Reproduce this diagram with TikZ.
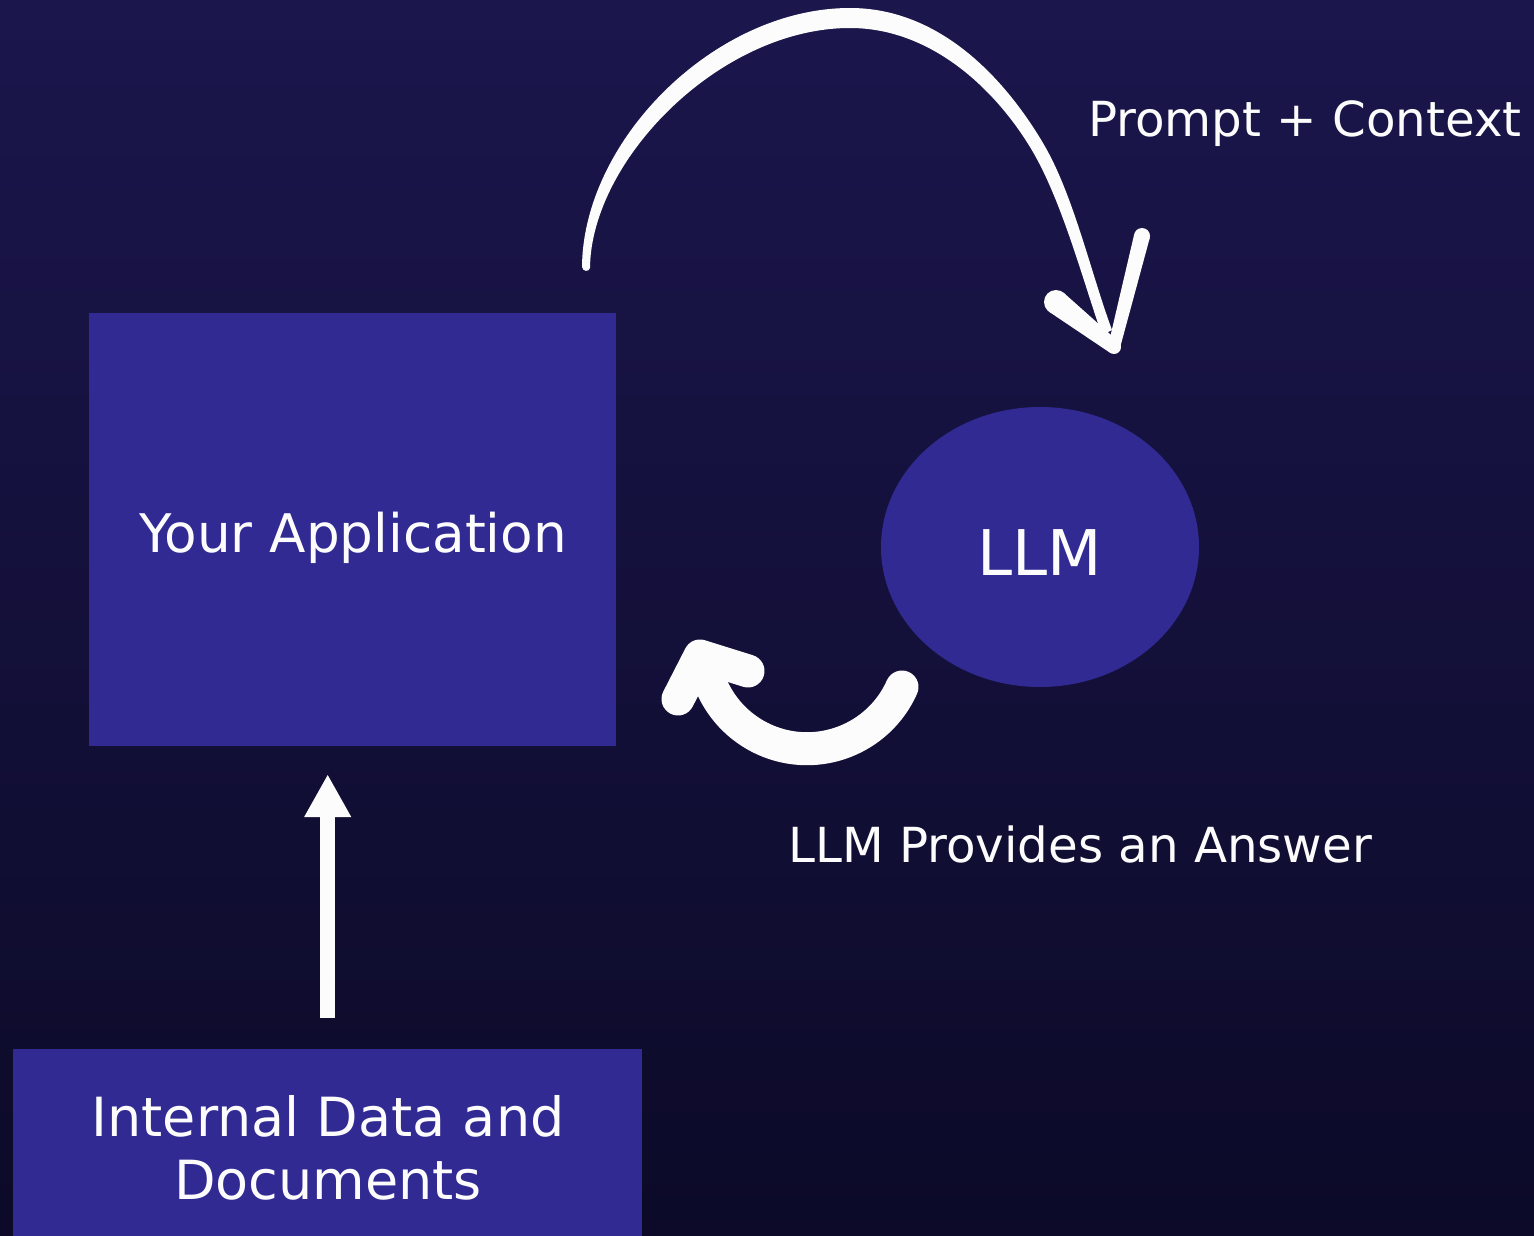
\documentclass[tikz,border=0pt]{standalone}
\usepackage{fontspec}
\setmainfont{DejaVu Sans}
\usetikzlibrary{shapes.geometric,arrows.meta,calc}
\definecolor{bgtop}{HTML}{1B164C}
\definecolor{bgmid}{HTML}{161241}
\definecolor{bgbot}{HTML}{0C0A28}
\definecolor{boxfill}{HTML}{312A93}
\definecolor{ink}{HTML}{FCFCFC}
\begin{document}
\begin{tikzpicture}[x=1pt,y=-1pt,
  panel/.style={rectangle, fill=boxfill, draw=none, inner sep=0pt},
  blob/.style={ellipse, fill=boxfill, draw=none, inner sep=0pt},
  lbl/.style={text=ink, inner sep=0pt},
  brush/.style={draw=ink, line cap=round, line join=round}]
\useasboundingbox (0,0) rectangle (1534,1236);
% background
\shade[top color=bgtop, middle color=bgmid, bottom color=bgbot] (0,0) rectangle (1534,1236);

% boxes
\node[panel, minimum width=527pt, minimum height=433pt] (app) at (352.5,529.5) {};
\node[lbl, anchor=base, font=\fontsize{53.2}{60}\selectfont] (apptext) at (353,552) {Your Application};

\node[panel, minimum width=629pt, minimum height=200pt, anchor=north west] (docs) at (13,1049) {};
\node[lbl, anchor=base, align=center, font=\fontsize{54}{63}\selectfont] (docstext) at (328,1199) {Internal Data and\\Documents};

\node[blob, minimum width=318pt, minimum height=280pt] (llm) at (1040,547) {};
\node[lbl, anchor=base, font=\fontsize{63}{70}\selectfont] (llmtext) at (1040,575) {LLM};

% labels
\node[lbl, anchor=base west, font=\fontsize{48.3}{56}\selectfont] (prompt) at (1088,136) {Prompt + Context};
\node[lbl, anchor=base west, font=\fontsize{48.3}{56}\selectfont] (answer) at (788,862) {LLM Provides an Answer};

% data feeds the application
\draw[draw=ink, line width=15pt, -{Triangle[width=44pt,length=43pt]}, shorten <=31pt, shorten >=28pt]
  (docs.north) -- (docs.north |- app.south);

% hand-drawn arc: prompt goes to the LLM (tapered brush stroke)
\coordinate (arcStart) at (582,267);
\coordinate (arcEnd) at (1112,330);
\fill[ink] (arcStart) .. controls (583,140) and (715,8) .. (850,8)
  .. controls (940,8) and (1004.7,78.5) .. (1043,143)
  .. controls (1073.6,194.6) and (1091,273.6) .. (arcEnd)
  -- (1102,335) .. controls (1082.2,278.6) and (1061.2,198) .. (1030,147)
  .. controls (993.6,87.5) and (930,28) .. (850,28)
  .. controls (720,28) and (591,160) .. (590,268)
  .. controls (589,272) and (583,272) .. (arcStart) -- cycle;
% its arrowhead: two tapered barbs
\coordinate (tipA) at (1114,347);
\coordinate (barbL) at (1056,302);
\coordinate (barbR) at (1142,236);
\fill[ink] ($(barbL)!12pt!90:(tipA)$) -- ($(tipA)!7pt!-90:(barbL)$)
  -- ($(tipA)!7pt!90:(barbL)$) -- ($(barbL)!12pt!-90:(tipA)$) -- cycle;
\fill[ink] (barbL) circle[radius=12];
\fill[ink] (tipA) circle[radius=7];
\fill[ink] ($(barbR)!8pt!90:(tipA)$) -- ($(tipA)!6pt!-90:(barbR)$)
  -- ($(tipA)!6pt!90:(barbR)$) -- ($(barbR)!8pt!-90:(tipA)$) -- cycle;
\fill[ink] (barbR) circle[radius=8];

% answer returns to the application
\coordinate (ansStart) at (902,687);
\draw[brush, line width=33pt] (ansStart) arc[start angle=24, end angle=160, radius=104];
\coordinate (chevL) at (678,699);
\coordinate (chevTip) at (700,656);
\coordinate (chevR) at (748,671);
\draw[brush, line width=33pt] (chevL) -- (chevTip) -- (chevR);
\end{tikzpicture}
\end{document}
